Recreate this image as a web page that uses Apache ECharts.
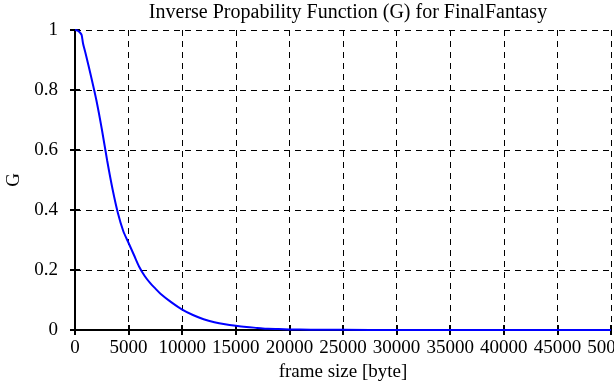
<!DOCTYPE html>
<html><head><meta charset="utf-8">
<script src="https://cdn.jsdelivr.net/npm/echarts@6/dist/echarts.min.js"></script>
<style>html,body{margin:0;padding:0;background:#fff}#c{width:614px;height:385px}</style>
</head><body><div id="c"></div>
<script>
const titleText = "Inverse Propability Function (G) for FinalFantasy";
const xName = "frame size [byte]";
const yName = "G";
const frameSize = [0,250,500,620,750,1000,1500,2000,2500,3000,3500,4000,4500,5000,5500,6000,6500,7000,7500,8000,9000,10000,11000,12000,13000,14000,15000,16000,17000,18000,19000,20000,22000,25000,30000,40000,50000];
const gValues = [1.0,0.998,0.99,0.983,0.955,0.92,0.845,0.765,0.67,0.565,0.47,0.39,0.33,0.29,0.25,0.21,0.18,0.157,0.138,0.12,0.092,0.068,0.05,0.036,0.026,0.019,0.014,0.01,0.007,0.004,0.003,0.002,0.001,0.0005,0.0002,0.0001,0];
const xTicks = {min:0, max:50000, interval:5000};
const yTicks = {min:0, max:1, interval:0.2};

const font = "Liberation Serif";
const chart = echarts.init(document.getElementById('c'), null, {renderer:'canvas'});
const dash = {color:'#000', type:[6,5], width:1};
const axisCommon = {
  axisLine:{show:true, lineStyle:{color:'#000', width:2}},
  axisTick:{show:true, inside:true, length:5, lineStyle:{color:'#000', width:2}},
};
chart.setOption({
  animation:false,
  title:{text:titleText, left:343, textAlign:'center', top:-2,
    textStyle:{fontFamily:font, fontSize:20, fontWeight:'normal', color:'#000'}},
  grid:{left:75, right:3, top:30, bottom:55, containLabel:false, outerBoundsMode:'none'},
  xAxis:[{
    type:'value', min:xTicks.min, max:xTicks.max, interval:xTicks.interval,
    name:xName, nameLocation:'middle', nameGap:33,
    nameTextStyle:{fontFamily:font, fontSize:19, color:'#000'},
    ...axisCommon,
    axisLabel:{fontFamily:font, fontSize:19, color:'#000', margin:9, showMaxLabel:true,
      formatter:(v)=>String(v), hideOverlap:false},
    splitLine:{show:true, lineStyle:dash}
  },{
    type:'value', position:'top', min:xTicks.min, max:xTicks.max, interval:xTicks.interval,
    ...axisCommon, axisLabel:{show:false}, splitLine:{show:false}
  }],
  yAxis:[{
    type:'value', min:yTicks.min, max:yTicks.max, interval:yTicks.interval,
    name:yName, nameLocation:'middle', nameGap:51, nameRotate:90,
    nameTextStyle:{fontFamily:font, fontSize:19, color:'#000'},
    ...axisCommon,
    axisLabel:{fontFamily:font, fontSize:19, color:'#000', margin:17, formatter:(v)=>String(v)},
    splitLine:{show:true, lineStyle:dash}
  },{
    type:'value', position:'right', min:yTicks.min, max:yTicks.max, interval:yTicks.interval,
    ...axisCommon, axisLabel:{show:false}, splitLine:{show:false}
  }],
  series:[{
    type:'line', data:frameSize.map((x,i)=>[x,gValues[i]]),
    showSymbol:false, smooth:0.3, lineStyle:{color:'#0000ff', width:2}, clip:false
  }]
});
</script></body></html>
